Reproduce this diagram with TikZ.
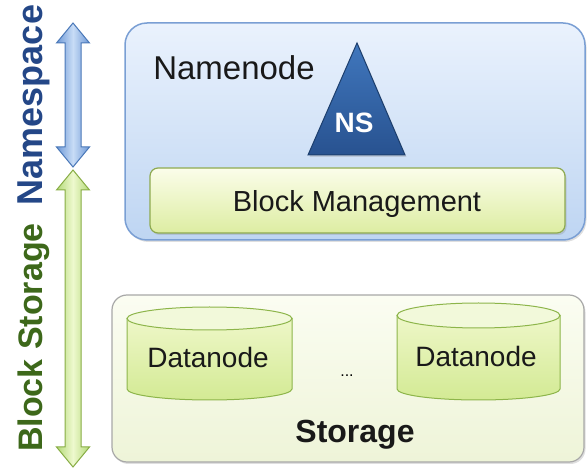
\documentclass[tikz,border=0pt]{standalone}
\usepackage{fontspec}
\setmainfont{Liberation Sans}
\usetikzlibrary{shadows}
\definecolor{nnTop}{HTML}{EAF2FD}
\definecolor{nnBot}{HTML}{BED5F2}
\definecolor{nnLine}{HTML}{7A9FD4}
\definecolor{triTop}{HTML}{4077BD}
\definecolor{triBot}{HTML}{285290}
\definecolor{triLine}{HTML}{1D3F6E}
\definecolor{bmTop}{HTML}{FBFDEA}
\definecolor{bmBot}{HTML}{DDEDA2}
\definecolor{bmLine}{HTML}{8EAA50}
\definecolor{stTop}{HTML}{FBFDF2}
\definecolor{stBot}{HTML}{EEF4D8}
\definecolor{stLine}{HTML}{A8A8A8}
\definecolor{cyTop}{HTML}{EEF7C8}
\definecolor{cyBot}{HTML}{D3EA94}
\definecolor{cyLine}{HTML}{8DB54A}
\definecolor{cyCap}{HTML}{F2F9DA}
\definecolor{arBlueS}{HTML}{6D98D6}
\definecolor{arBlueM}{HTML}{C8DCF6}
\definecolor{arBlueL}{HTML}{4A78B8}
\definecolor{arGrnS}{HTML}{B3D978}
\definecolor{arGrnM}{HTML}{EEF9CE}
\definecolor{arGrnL}{HTML}{88AD45}
\definecolor{nsText}{HTML}{244787}
\definecolor{bsText}{HTML}{3D681A}
\tikzset{
  shd/.style={drop shadow={opacity=0.25,shadow xshift=1.5pt,shadow yshift=-2pt}},
  nnbox/.style={draw=nnLine,line width=1.5pt,rounded corners=22pt,top color=nnTop,bottom color=nnBot,shd},
  bmbox/.style={draw=bmLine,line width=1.2pt,rounded corners=8pt,top color=bmTop,bottom color=bmBot,shd},
  stbox/.style={draw=stLine,line width=1.2pt,rounded corners=15pt,top color=stTop,bottom color=stBot,shd},
  cybody/.style={draw=cyLine,line width=1pt,top color=cyTop,bottom color=cyBot},
  cycap/.style={draw=cyLine,line width=1pt,fill=cyCap},
  lbl/.style={inner sep=0pt,anchor=base,text=black!90},
  blueArrow/.style={draw=arBlueL,line width=1pt,left color=arBlueS,right color=arBlueS,middle color=arBlueM},
  greenArrow/.style={draw=arGrnL,line width=1pt,left color=arGrnS,right color=arGrnS,middle color=arGrnM},
}
\begin{document}
\begin{tikzpicture}[x=1pt,y=-1pt]
\useasboundingbox (0,0) rectangle (587,470);
% Namenode box
\draw[nnbox] (125,23) rectangle (585,240);
\node[lbl,font=\fontsize{33}{40}\selectfont] (nn) at (234,80) {Namenode};
% triangle
\draw[draw=triLine,line width=1pt,top color=triTop,bottom color=triBot,shd] (357,43) -- (405,155) -- (308,155) -- cycle;
\node[lbl,text=white,font=\bfseries\fontsize{28}{34}\selectfont] (ns) at (354,133) {NS};
% Block management
\draw[bmbox] (150,168) rectangle (565,233);
\node[lbl,font=\fontsize{29}{35}\selectfont] (bm) at (357,212) {Block Management};
% Storage box
\draw[stbox] (112,295) rectangle (584,462);
% cylinder 1
\draw[cybody] (127,318.5) -- (127,389) arc[start angle=180,end angle=0,x radius=82.5,y radius=11] -- (292,318.5) -- cycle;
\draw[cycap] (209.5,318.5) ellipse[x radius=82.5,y radius=11.5];
\node[lbl,font=\fontsize{28}{34}\selectfont] (dn1) at (208,368) {Datanode};
% cylinder 2
\draw[cybody] (397,315.5) -- (397,389) arc[start angle=180,end angle=0,x radius=81.5,y radius=11] -- (560,315.5) -- cycle;
\draw[cycap] (478.5,315.5) ellipse[x radius=81.5,y radius=12.5];
\node[lbl,font=\fontsize{28}{34}\selectfont] (dn2) at (476,367) {Datanode};
\node[inner sep=0pt,font=\fontsize{16}{20}\selectfont] (dots) at (347,376) {...};
\node[lbl,font=\bfseries\fontsize{32}{38}\selectfont] (st) at (355,443) {Storage};
% arrows
\path[blueArrow] (73,23) -- (89.5,43) -- (81,43) -- (81,147) -- (89.5,147) -- (73,167) -- (56.5,147) -- (65,147) -- (65,43) -- (56.5,43) -- cycle;
\path[greenArrow] (73,170) -- (89.5,190) -- (81,190) -- (81,447) -- (89.5,447) -- (73,467) -- (56.5,447) -- (65,447) -- (65,190) -- (56.5,190) -- cycle;
% side labels
\node[lbl,rotate=90,text=nsText,font=\bfseries\fontsize{36}{42}\selectfont] (nsl) at (42,105) {Namespace};
\node[lbl,rotate=90,text=bsText,font=\bfseries\fontsize{34}{40}\selectfont] (bsl) at (42,337.5) {Block Storage};
\end{tikzpicture}
\end{document}
